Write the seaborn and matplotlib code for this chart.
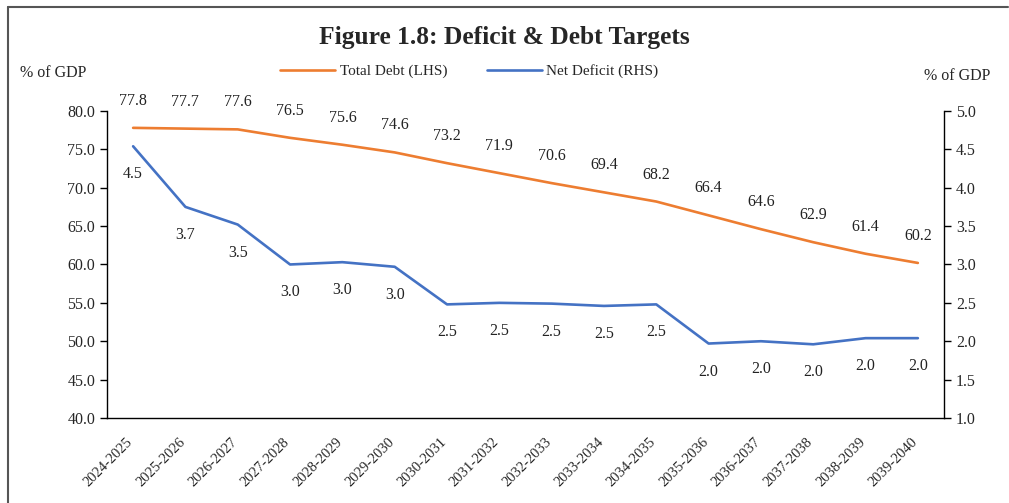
import numpy as np
import pandas as pd
import matplotlib
matplotlib.use('Agg')
import matplotlib.pyplot as plt
import matplotlib.lines as mlines
import matplotlib.transforms as mtransforms
import seaborn as sns


years = ['2024-2025', '2025-2026', '2026-2027', '2027-2028', '2028-2029', '2029-2030',
         '2030-2031', '2031-2032', '2032-2033', '2033-2034', '2034-2035', '2035-2036',
         '2036-2037', '2037-2038', '2038-2039', '2039-2040']

# Total debt (LHS, % of GDP)
total_debt = [77.8, 77.7, 77.6, 76.5, 75.6, 74.6, 73.2, 71.9, 70.6, 69.4, 68.2, 66.4,
              64.6, 62.9, 61.4, 60.2]

# Net deficit (RHS, % of GDP) - line positions and printed labels
net_deficit = [4.54, 3.75, 3.52, 3.00, 3.03, 2.97, 2.48, 2.50, 2.49, 2.46, 2.48, 1.97,
               2.00, 1.96, 2.04, 2.04]
deficit_labels = ['4.5', '3.7', '3.5', '3.0', '3.0', '3.0', '2.5', '2.5', '2.5', '2.5',
                  '2.5', '2.0', '2.0', '2.0', '2.0', '2.0']

df = pd.DataFrame({'year': years, 'x': np.arange(len(years)),
                   'debt': total_debt, 'deficit': net_deficit})

sns.set_style('white')
plt.rcParams['font.family'] = ['Liberation Serif', 'DejaVu Serif']

orange = '#ED7D31'
blue = '#4472C4'
fs = 11.5

fig = plt.figure(figsize=(10.09, 5.03), dpi=100)
ax = fig.add_axes([0.106, 0.169, 0.8296, 0.6104])
ax2 = ax.twinx()

sns.lineplot(data=df, x='x', y='debt', ax=ax, color=orange, linewidth=1.9)
sns.lineplot(data=df, x='x', y='deficit', ax=ax2, color=blue, linewidth=1.9)

ax.set_xlim(-0.5, len(years) - 0.5)
ax.set_ylim(40, 80)
ax2.set_ylim(1, 5)
ax.set_yticks(np.arange(40, 80.1, 5))
ax.set_yticklabels([f'{v:.1f}' for v in np.arange(40, 80.1, 5)])
ax2.set_yticks(np.arange(1, 5.01, 0.5))
ax2.set_yticklabels([f'{v:.1f}' for v in np.arange(1, 5.01, 0.5)])

# category labels in the middle, tick marks on the boundaries
ax.set_xticks(df['x'])
ax.set_xticklabels(years, rotation=45, ha='right', va='top', rotation_mode='anchor')
ax.set_xticks(np.arange(-0.5, len(years)), minor=True)
ax.tick_params(axis='x', which='major', length=0, pad=8, labelsize=10.5)
ax.tick_params(axis='x', which='minor', length=5, width=1, color='black', direction='out')
ax.tick_params(axis='y', length=5, width=1, color='black', direction='out', labelsize=fs, left=True)
ax2.tick_params(axis='y', length=5, width=1, color='black', direction='out', labelsize=fs, right=True)
ax.set_xlabel('')
ax.set_ylabel('')
ax2.set_ylabel('')

shift = mtransforms.ScaledTranslation(-0.07, -0.06, fig.dpi_scale_trans)
for lab in ax.get_xticklabels():
    lab.set_transform(lab.get_transform() + shift)

for a in (ax, ax2):
    a.spines['top'].set_visible(False)
    for s in ('left', 'right', 'bottom'):
        a.spines[s].set_color('black')
        a.spines[s].set_linewidth(1)
ax.spines['right'].set_visible(False)
ax2.spines['left'].set_visible(False)
ax2.spines['bottom'].set_visible(False)

for x, v in zip(df['x'], total_debt):
    ax.annotate(f'{v:.1f}', (x, v), xytext=(0, 27), textcoords='offset pixels',
                ha='center', va='center', fontsize=fs, color='#222222')
for x, v, lab in zip(df['x'], net_deficit, deficit_labels):
    ax2.annotate(lab, (x, v), xytext=(0, -28), textcoords='offset pixels',
                 ha='center', va='center', fontsize=fs, color='#222222')

fig.text(0.5, 0.925, 'Figure 1.8: Deficit & Debt Targets', ha='center', va='center',
         fontsize=18.4, fontweight='bold')
fig.text(0.02, 0.855, '% of GDP', ha='left', va='center', fontsize=fs)
fig.text(0.982, 0.848, '% of GDP', ha='right', va='center', fontsize=fs)

handles = [mlines.Line2D([], [], color=orange, linewidth=1.9),
           mlines.Line2D([], [], color=blue, linewidth=1.9)]
fig.legend(handles, ['Total Debt (LHS)', 'Net Deficit (RHS)'], loc='center',
           bbox_to_anchor=(0.465, 0.858), ncol=2, frameon=False, fontsize=11,
           handlelength=3.6, handletextpad=0.3, columnspacing=2.6)

# frame lines around the figure (left and top)
fig.add_artist(mlines.Line2D([0.0075, 0.0075], [0, 0.986], color='#555555', linewidth=1.5,
                             transform=fig.transFigure))
fig.add_artist(mlines.Line2D([0.0075, 0.999], [0.986, 0.986], color='#555555', linewidth=1.5,
                             transform=fig.transFigure))

fig.savefig('out.png', dpi=100)
